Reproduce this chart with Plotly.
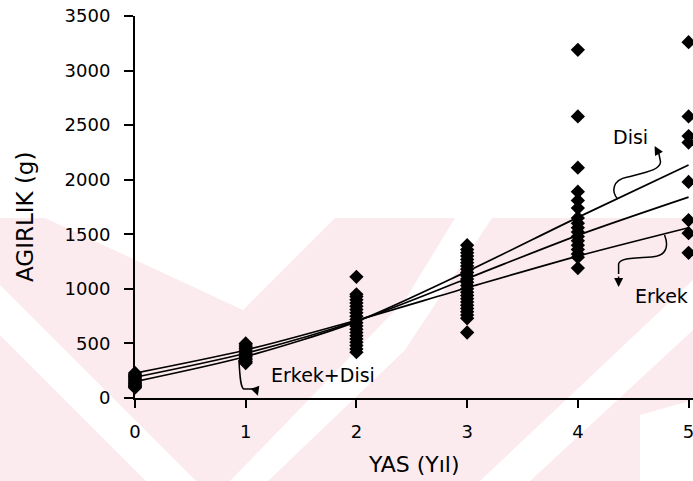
import plotly.graph_objects as go

# ---- data: body weight (g) by age (years) ----
ages = [0, 1, 2, 3, 4, 5]

w_age0 = [95, 105, 115, 125, 135, 145, 155, 165, 175, 185, 195, 205, 215, 230]
w_age1 = [320, 335, 350, 365, 380, 395, 410, 425, 440, 455, 470, 485, 500]
w_age2 = [420, 450, 480, 510, 540, 570, 600, 630, 660, 690, 720, 750, 780,
          810, 840, 870, 900, 930, 950, 1110]
w_age3 = [600, 730, 760, 790, 820, 850, 880, 910, 940, 970, 1000, 1030, 1060,
          1090, 1120, 1150, 1180, 1210, 1240, 1270, 1300, 1330, 1360, 1400]
w_age4 = [1190, 1290, 1320, 1360, 1400, 1440, 1480, 1520, 1560, 1600, 1650,
          1740, 1810, 1890, 2110, 2580, 3190]
w_age5 = [1330, 1510, 1630, 1980, 2340, 2400, 2580, 3260]

# fitted growth curves at each age
fit_erkek = [228, 440, 712, 1010, 1300, 1560]
fit_toplam = [190, 410, 705, 1095, 1490, 1840]
fit_disi = [150, 380, 700, 1160, 1655, 2135]

y_ticks = [0, 500, 1000, 1500, 2000, 2500, 3000, 3500]
x_ticks = [0, 1, 2, 3, 4, 5]

# ---- layout geometry ----
W, H = 693, 481
ML, MR, MT, MB = 135, 0, 16, 83
PW, PH = W - ML - MR, H - MT - MB
FONT = "DejaVu Sans"


def px(xp, yp):
    """pixel position on the page -> paper coordinates"""
    return (xp - ML) / PW, (H - MB - yp) / PH


def poly(points, color):
    pts = [px(a, b) for a, b in points]
    d = "M " + " L ".join(f"{a:.4f},{b:.4f}" for a, b in pts) + " Z"
    return dict(type="path", xref="paper", yref="paper", path=d,
                fillcolor=color, line=dict(width=0), layer="below")


fig = go.Figure()

# scatter of individual fish
all_x, all_y = [], []
for a, ws in zip(ages, [w_age0, w_age1, w_age2, w_age3, w_age4, w_age5]):
    all_x += [a] * len(ws)
    all_y += ws
fig.add_trace(go.Scatter(
    x=all_x, y=all_y, mode="markers",
    marker=dict(symbol="diamond", size=11, color="black",
                line=dict(width=0)),
    cliponaxis=False, showlegend=False))

for fit in (fit_erkek, fit_toplam, fit_disi):
    fig.add_trace(go.Scatter(
        x=ages, y=fit, mode="lines",
        line=dict(color="black", width=1.7, shape="spline", smoothing=0.8),
        cliponaxis=False, showlegend=False))

# faint background emblem
pink = "#fcebee"
shapes = [
    poly([(0, 218), (693, 218), (693, 481), (0, 481)], pink),
    poly([(45, 218), (335, 218), (243, 310)], "white"),
    poly([(0, 285), (0, 335), (146, 481), (196, 481)], "white"),
    poly([(230, 481), (268, 481), (405, 350), (405, 300)], "white"),
    poly([(455, 218), (492, 218), (405, 350), (405, 300)], "white"),
    poly([(480, 481), (530, 481), (693, 330), (693, 280)], "white"),
    poly([(640, 415), (693, 400), (693, 481), (640, 481)], "white"),
]


def curve(points):
    (x0, y0), rest = points[0], points[1:]
    d = f"M {x0},{y0}"
    i = 0
    while i < len(rest):
        if i + 2 < len(rest):
            (a, b), (c, e), (f, g) = rest[i], rest[i + 1], rest[i + 2]
            d += f" C {a},{b} {c},{e} {f},{g}"
            i += 3
        else:
            a, b = rest[i]
            d += f" L {a},{b}"
            i += 1
    return dict(type="path", xref="x", yref="y", path=d,
                line=dict(color="black", width=1.5), layer="above")


# curled leader lines (age, weight)
shapes.append(curve([(4.359, 1823), (4.305, 1887), (4.305, 1997),
                     (4.449, 2025), (4.630, 2071), (4.738, 2089),
                     (4.747, 2162), (4.729, 2254)]))
shapes.append(curve([(4.783, 1494), (4.819, 1402), (4.810, 1301),
                     (4.666, 1292), (4.449, 1283), (4.377, 1274),
                     (4.368, 1228), (4.368, 1136)]))
shapes.append(curve([(0.939, 348), (0.948, 165), (0.957, 92),
                     (0.984, 82), (1.083, 82)]))

fig.update_layout(
    width=W, height=H,
    margin=dict(l=ML, r=MR, t=MT, b=MB),
    paper_bgcolor="white", plot_bgcolor="rgba(0,0,0,0)",
    font=dict(family=FONT, color="black", size=19),
    shapes=shapes,
    xaxis=dict(range=[0, 5.04], tickvals=x_ticks, ticktext=[str(t) for t in x_ticks],
               showgrid=False, zeroline=False, showline=True, linecolor="black",
               linewidth=2, ticks="outside", ticklen=8, tickwidth=2,
               tickcolor="black", ticklabelstandoff=8,
               ticklabeloverflow="allow", tickfont=dict(size=18)),
    yaxis=dict(range=[0, 3500], tickvals=y_ticks, ticktext=[str(t) for t in y_ticks],
               showgrid=False, zeroline=False, showline=True, linecolor="black",
               linewidth=2, ticks="outside", ticklen=9, tickwidth=2,
               tickcolor="black", ticklabelstandoff=10,
               ticklabeloverflow="allow", tickfont=dict(size=18)),
)

# axis titles
fig.add_annotation(text="YAS (Yıl)", xref="paper", yref="paper",
                   x=0.5, y=-0.175, showarrow=False,
                   font=dict(size=22), xanchor="center", yanchor="middle")
fig.add_annotation(text="AGIRLIK (g)", xref="paper", yref="paper",
                   x=-0.197, y=0.474, showarrow=False, textangle=-90,
                   font=dict(size=23), xanchor="center", yanchor="middle")

# curve labels
fig.add_annotation(text="Disi", x=4.477, y=2391, showarrow=False,
                   font=dict(size=19))
fig.add_annotation(text="Erkek", x=4.756, y=935, showarrow=False,
                   font=dict(size=19))
fig.add_annotation(text="Erkek+Disi", x=1.697, y=211, showarrow=False,
                   font=dict(size=19))

# arrow heads at the ends of the leader lines
for hx, hy, ax, ay in [(4.693, 2309, 5, 9), (4.368, 1017, 0, -12),
                       (1.110, 20, -3, -9)]:
    fig.add_annotation(x=hx, y=hy, ax=ax, ay=ay, axref="pixel", ayref="pixel",
                       text="", showarrow=True, arrowhead=2, arrowsize=1.2,
                       arrowwidth=1.5, arrowcolor="black")

fig.write_html("out.html")
